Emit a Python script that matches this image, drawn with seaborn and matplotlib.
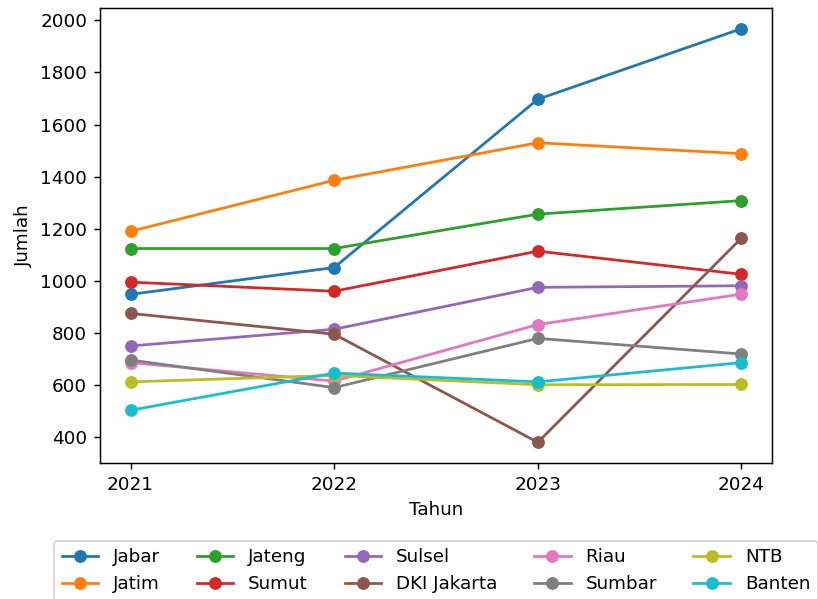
import pandas as pd
import matplotlib
matplotlib.use("Agg")
import matplotlib.pyplot as plt
import seaborn as sns

# data
tahun = [2021, 2022, 2023, 2024]
provinsi = ['Jabar', 'Jatim', 'Jateng', 'Sumut', 'Sulsel',
            'DKI Jakarta', 'Riau', 'Sumbar', 'NTB', 'Banten']
jabar = [948, 1051, 1697, 1968]
jatim = [1190, 1386, 1530, 1488]
jateng = [1124, 1124, 1256, 1308]
sumut = [995, 960, 1114, 1025]
sulsel = [750, 814, 975, 981]
dki = [875, 795, 380, 1164]
riau = [686, 615, 832, 949]
sumbar = [696, 590, 779, 719]
ntb = [612, 637, 601, 602]
banten = [503, 646, 612, 686]

series = [jabar, jatim, jateng, sumut, sulsel, dki, riau, sumbar, ntb, banten]
rows = []
for nama, vals in zip(provinsi, series):
    for t, v in zip(tahun, vals):
        rows.append({'Tahun': t, 'Jumlah': v, 'Provinsi': nama})
df = pd.DataFrame(rows)

# the reference is a scaled-up default figure, so render at a higher dpi
dpi = 132
fig = plt.figure(figsize=(818 / dpi, 599 / dpi), dpi=dpi)
ax = fig.add_axes([100 / 818, 1 - 463 / 599, 672 / 818, 455 / 599])

sns.lineplot(data=df, x='Tahun', y='Jumlah', hue='Provinsi', hue_order=provinsi,
             palette='tab10', marker='o', markersize=7, markeredgewidth=0,
             linewidth=1.5, ax=ax)

ax.set_xticks(tahun)
ax.set_xticklabels([str(t) for t in tahun])
ax.set_xlabel('Tahun')
ax.set_ylabel('Jumlah')

ax.legend(loc='upper center', bbox_to_anchor=(0.5, -0.151), ncol=5)

fig.savefig('out.png', dpi=dpi)
plt.close()
